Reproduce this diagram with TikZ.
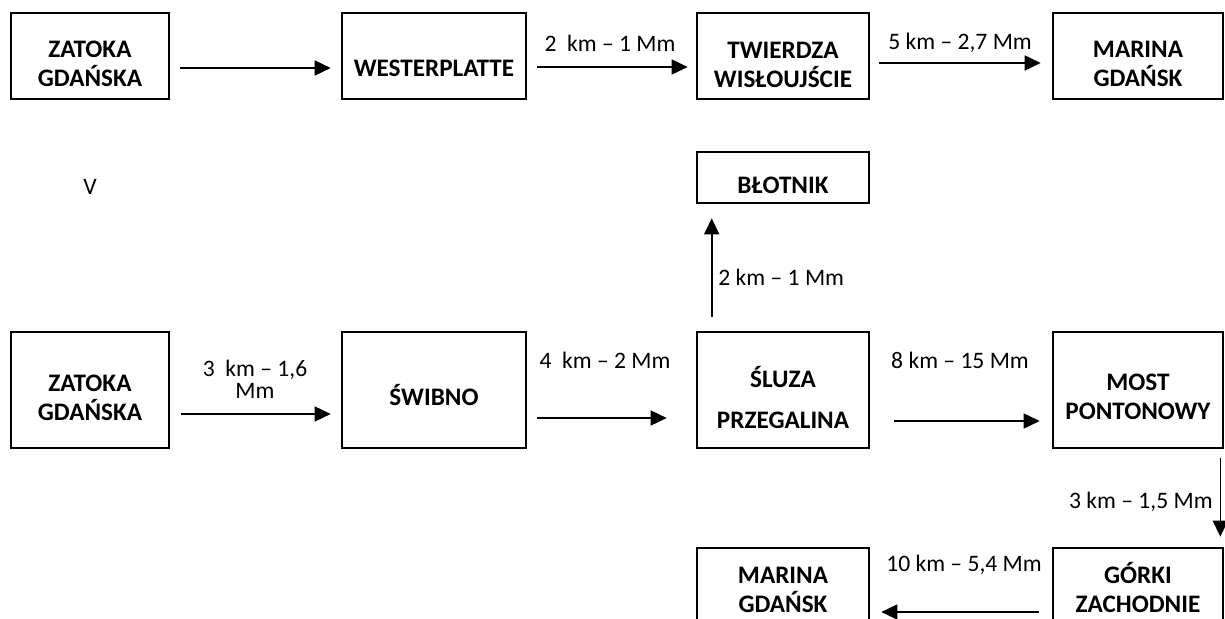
\documentclass[tikz,border=0pt]{standalone}
\usepackage{fontspec}
\setmainfont{Carlito}
\usetikzlibrary{arrows.meta}
\begin{document}
\begin{tikzpicture}[x=0.5pt,y=-0.5pt,
  box/.style={draw, line width=1.3pt, inner sep=0pt},
  btxt/.style={font=\fontsize{12.6}{14.5}\selectfont\bfseries, align=center, inner sep=0pt},
  lbl/.style={font=\fontsize{11.8}{14.5}\selectfont, align=center, inner sep=0pt},
  arr/.style={line width=0.8pt, -{Triangle[length=8pt,width=7.5pt]}}]
\useasboundingbox (0,0) rectangle (1225,619);
\clip (0,0) rectangle (1225,619);
% top row
\node[box, minimum width=79pt, minimum height=43pt] (z1) at (90,56) {};
\node[box, minimum width=92pt, minimum height=43pt] (w) at (434,56) {};
\node[box, minimum width=86pt, minimum height=43pt] (t) at (783,56) {};
\node[box, minimum width=85pt, minimum height=43pt] (ma) at (1138,56) {};
\node[btxt] (z1t) at (90,64) {ZATOKA\\GDAŃSKA};
\node[btxt] (wt) at (434,68) {WESTERPLATTE};
\node[btxt] (tt) at (783,65) {TWIERDZA\\WISŁOUJŚCIE};
\node[btxt] (mat) at (1138,64) {MARINA\\GDAŃSK};
% middle
\node[box, minimum width=86pt, minimum height=25.5pt] (b) at (783,177.5) {};
\node[btxt] (bt) at (783,185) {BŁOTNIK};
\node[lbl] (v) at (90,187) {V};
% row 2
\node[box, minimum width=79pt, minimum height=58pt] (z2) at (90,390) {};
\node[box, minimum width=92pt, minimum height=58pt] (sw) at (434,390) {};
\node[box, minimum width=86pt, minimum height=58pt] (sl) at (783,390) {};
\node[box, minimum width=85pt, minimum height=58pt] (m) at (1138,390) {};
\node[btxt] (z2t) at (90,397.5) {ZATOKA\\GDAŃSKA};
\node[btxt] (swt) at (434,395) {ŚWIBNO};
\node[btxt] (slt) at (783,397.5) {ŚLUZA\\[6pt]PRZEGALINA};
\node[btxt] (mt) at (1138,396.5) {MOST\\PONTONOWY};
% bottom row
\node[box, minimum width=86pt, minimum height=58pt] (mb) at (783,606) {};
\node[box, minimum width=85pt, minimum height=58pt] (g) at (1138,606) {};
\node[btxt] (mbt) at (783,590) {MARINA\\GDAŃSK};
\node[btxt] (gt) at (1138,588) {GÓRKI\\ZACHODNIE};
% connectors top
\draw[arr, shorten <=5pt, shorten >=5pt] ([yshift=-6pt]z1.east) -- ([yshift=-6pt]w.west);
\draw[arr, shorten <=5pt, shorten >=4pt] ([yshift=-5.5pt]w.east) -- ([yshift=-5.5pt]t.west);
\draw[arr, shorten <=4.5pt, shorten >=5.5pt] ([yshift=-3.5pt]t.east) -- ([yshift=-3.5pt]ma.west);
\node[lbl] (l1) at (610,43) {2\ \ km – 1 Mm};
\node[lbl] (l2) at (960,43) {5 km – 2,7 Mm};
% up
\draw[arr, shorten <=7pt, shorten >=7pt] ([xshift=8pt]sl.north west) -- ([xshift=8pt]b.south west);
\node[lbl, anchor=west] (l3) at (718,277) {2 km – 1 Mm};
% row 2 connectors
\draw[arr, shorten <=5.5pt, shorten >=5pt] ([yshift=-12pt]z2.east) -- ([yshift=-12pt]sw.west);
\draw[arr, shorten <=5pt, shorten >=14.5pt] ([yshift=-14pt]sw.east) -- ([yshift=-14pt]sl.west);
\draw[arr, shorten <=12pt, shorten >=6pt] ([yshift=-15.5pt]sl.east) -- ([yshift=-15.5pt]m.west);
\node[lbl, font=\fontsize{11.8}{11}\selectfont] (l4) at (255,379) {3\ \ km – 1,6\\Mm};
\node[lbl] (l5) at (605,360) {4\ \ km – 2 Mm};
\node[lbl] (l6) at (960,360) {8 km – 15 Mm};
% down
\draw[arr, shorten <=4.5pt, shorten >=5pt] ([xshift=-2pt]m.south east) -- ([xshift=-2pt]g.north east);
\node[lbl, anchor=east] (l7) at (1213,502) {3 km – 1,5 Mm};
% bottom
\draw[arr, shorten <=6.5pt, shorten >=5.5pt] ([yshift=-3pt]g.west) -- ([yshift=-3pt]mb.east);
\node[lbl] (l8) at (964,565) {10 km – 5,4 Mm};
\end{tikzpicture}
\end{document}
